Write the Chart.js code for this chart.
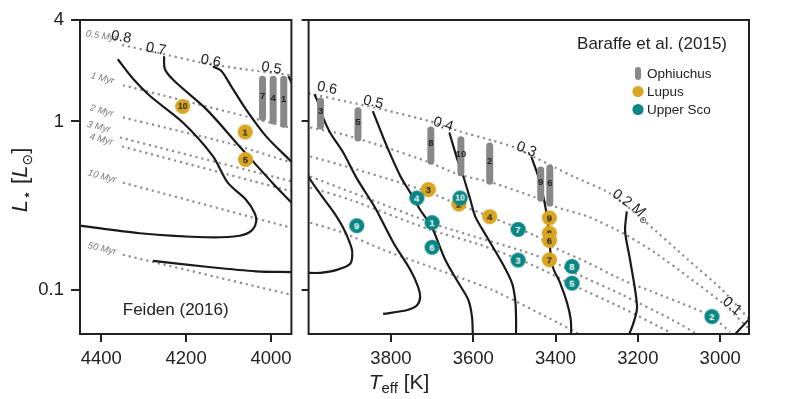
<!DOCTYPE html>
<html><head><meta charset="utf-8">
<script src="https://cdn.jsdelivr.net/npm/chart.js@4.4.1/dist/chart.umd.min.js"></script>
<style>
html,body{margin:0;padding:0;background:#fff;}
#wrap{position:relative;width:797px;height:399px;overflow:hidden;background:#fff;}
#cL{position:absolute;left:0;top:0;}
#cR{position:absolute;left:300px;top:0;}
</style></head><body>
<div id="wrap"><canvas id="cL" width="300" height="399"></canvas><canvas id="cR" width="497" height="399"></canvas></div>
<script>
// ---------------- DATA ----------------
const yTickValues = [0.1, 1, 4];
const feidenTickValues = [4400, 4200, 4000];
const baraffeTickValues = [3800, 3600, 3400, 3200, 3000];

// Feiden (2016) isochrones: Teff [K], L [Lsun]
const feidenIsoAges = ['0.5 Myr','1 Myr','2 Myr','3 Myr','4 Myr','10 Myr','50 Myr'];
const fIso05T = [4351, 4262, 4168, 4063, 3952];  const fIso05L = [2.84, 2.54, 2.245, 2.04, 1.88];
const fIso1T  = [4349, 3952];                    const fIso1L  = [1.64, 0.915];
const fIso2T  = [4349, 4098, 3952];              const fIso2L  = [1.056, 0.740, 0.570];
const fIso3T  = [4356, 3952];                    const fIso3L  = [0.803, 0.441];
const fIso4T  = [4351, 3952];                    const fIso4L  = [0.710, 0.385];
const fIso10T = [4349, 3952];                    const fIso10L = [0.433, 0.2336];
const fIso50T = [4349, 3952];                    const fIso50L = [0.1616, 0.0934];
const fIsoLabelT = [4399, 4397, 4399, 4406, 4400, 4398, 4398];
const fIsoLabelL = [3.21, 1.80, 1.155, 0.927, 0.781, 0.471, 0.1754];

// Feiden (2016) mass tracks
const fTrk08T = [4361, 4324, 4285, 4207, 4137, 4102, 4059, 4039, 4035, 4046, 4074, 4152, 4309, 4450];
const fTrk08L = [2.339, 1.778, 1.415, 0.982, 0.622, 0.433, 0.343, 0.287, 0.254, 0.2245, 0.2096, 0.2053, 0.2169, 0.2404];
const fTrk07T = [4252, 4250, 4227, 4152, 4074, 3997, 3952, 3934];
const fTrk07L = [2.437, 2.039, 1.730, 1.179, 0.710, 0.433, 0.330, 0.295];
const fTrk07bT = [4278, 4152, 4035, 3952, 3934];
const fTrk07bL = [0.1488, 0.1371, 0.1288, 0.1275, 0.1272];
const fTrk06T = [4137, 4117, 4094, 4059, 4012, 3953, 3934];
const fTrk06L = [2.117, 1.992, 1.622, 1.179, 0.818, 0.580, 0.518];
const fTrk05T = [3959, 3952, 3934];
const fTrk05L = [1.853, 1.707, 1.352];
const fMassLabels = ['0.8', '0.7', '0.6', '0.5'];
const fMassLabelT = [4353, 4271, 4142, 3999];
const fMassLabelL = [3.162, 2.683, 2.276, 2.067];

// Feiden panel: Ophiuchus (0.5-1 Myr ranges) and Lupus
const fOphIds = ['7', '4', '1'];
const fOphT = [4020, 3995, 3970];
const fOphLtop = [1.778, 1.778, 1.778];
const fOphLbot = [1.056, 1.007, 0.962];
const fLupIds = ['10', '1', '5'];
const fLupT = [4208, 4061, 4060];
const fLupL = [1.228, 0.866, 0.594];

// Baraffe et al. (2015) isochrones (0.5, 1, 2, 3, 4, 10 Myr)
const bIso05T = [4000, 3899, 3821, 3704, 3632, 3554, 3498, 3449, 3401, 3357, 3267, 3182, 3078, 2995, 2932, 2903];
const bIso05L = [1.467, 1.298, 1.179, 1.0, 0.872, 0.771, 0.700, 0.610, 0.532, 0.471, 0.373, 0.254, 0.1509, 0.1, 0.0681, 0.0578];
const bIso1T = [3996, 3916, 3819, 3712, 3636, 3554, 3449, 3401, 3321, 3238, 3158, 3078, 2995, 2927];
const bIso1L = [0.921, 0.837, 0.710, 0.578, 0.484, 0.433, 0.353, 0.312, 0.272, 0.2184, 0.1661, 0.1195, 0.0837, 0.0578];
const bIso2T = [3996, 3899, 3777, 3705, 3636, 3559, 3449, 3401, 3321, 3238, 3158, 3078, 3019, 2976];
const bIso2L = [0.619, 0.532, 0.433, 0.378, 0.321, 0.272, 0.2096, 0.1778, 0.1448, 0.1147, 0.0960, 0.0803, 0.0691, 0.0562];
const bIso3T = [3996, 3831, 3722, 3668, 3474, 3401, 3359, 3238, 3116, 3048];
const bIso3L = [0.471, 0.330, 0.261, 0.2339, 0.1683, 0.1448, 0.1279, 0.0934, 0.0663, 0.0532];
const bIso4T = [3996, 3899, 3705, 3583, 3474, 3401, 3359, 3238, 3119];
const bIso4L = [0.405, 0.343, 0.2276, 0.1853, 0.1468, 0.1212, 0.1071, 0.0781, 0.0555];
const bIso10T = [3996, 3916, 3819, 3705, 3554, 3393, 3335];
const bIso10L = [0.2505, 0.2184, 0.1730, 0.1371, 0.1, 0.0636, 0.0532];

// Baraffe et al. (2015) mass tracks
const bTrk07T = [4008, 3996, 3967, 3940, 3916, 3901, 3894, 3899, 3931, 3972, 4008];
const bTrk07L = [0.518, 0.452, 0.358, 0.291, 0.2339, 0.1931, 0.1683, 0.1428, 0.1315, 0.1262, 0.1262];
const bTrk06T = [3986, 3979, 3965, 3948, 3916, 3884, 3843, 3833, 3794, 3753, 3734, 3729, 3736, 3760, 3819];
const bTrk06L = [1.448, 1.334, 1.056, 0.860, 0.654, 0.464, 0.321, 0.291, 0.1905, 0.1315, 0.1042, 0.0908, 0.0814, 0.0760, 0.0720];
const bTrk05T = [3844, 3810, 3777, 3753, 3729, 3700, 3668, 3636, 3612, 3603, 3601];
const bTrk05L = [1.152, 0.713, 0.473, 0.378, 0.299, 0.2339, 0.1509, 0.1101, 0.0872, 0.0691, 0.0532];
const bTrk04T = [3658, 3640, 3624, 3607, 3595, 3567, 3530, 3506, 3498, 3496, 3496];
const bTrk04L = [0.860, 0.610, 0.471, 0.343, 0.272, 0.2067, 0.1448, 0.1101, 0.0872, 0.0691, 0.0532];
const bTrk03T = [3459, 3442, 3428, 3418, 3413, 3406, 3389, 3372, 3363, 3362];
const bTrk03L = [0.619, 0.471, 0.343, 0.2436, 0.1730, 0.1352, 0.1101, 0.0837, 0.0663, 0.0532];
const bTrk02T = [3227, 3231, 3219, 3202, 3211, 3223];
const bTrk02L = [0.2924, 0.2223, 0.1509, 0.0795, 0.0633, 0.0532];
const bTrk01T = [2968, 2931, 2903];
const bTrk01L = [0.0532, 0.0663, 0.0760];
const bMassLabels = ['0.6', '0.5', '0.4', '0.3', '0.2', '0.1'];
const bMassLabelT = [3955, 3843, 3673, 3471, 3221, 2971];
const bMassLabelL = [1.572, 1.298, 0.960, 0.681, 0.325, 0.0801];

// Baraffe panel: Ophiuchus, Lupus, Upper Sco
const bOphIds = ['3', '5', '8', '10', '2', '9', '6'];
const bOphT = [3971, 3880, 3703, 3630, 3560, 3436, 3414];
const bOphLtop = [1.324, 1.155, 0.890, 0.779, 0.715, 0.514, 0.529];
const bOphLbot = [0.940, 0.798, 0.582, 0.496, 0.442, 0.350, 0.327];
const bLupIds = ['3', '2', '4', '9', '8', '6', '7'];
const bLupT = [3709, 3635, 3560, 3415, 3415, 3415, 3415];
const bLupL = [0.394, 0.323, 0.272, 0.2673, 0.2175, 0.1965, 0.1509];
const bUscIds = ['4', '10', '1', '6', '9', '7', '3', '8', '5', '2'];
const bUscT = [3737, 3632, 3700, 3700, 3883, 3491, 3491, 3360, 3360, 3020];
const bUscL = [0.351, 0.351, 0.2505, 0.179, 0.2404, 0.2285, 0.1502, 0.1376, 0.1096, 0.0694];

// ---------------- STYLE / HELPERS ----------------
const FF = '"Liberation Sans", Arial, "DejaVu Sans", sans-serif';
const INK = '#222222';
const GOLD = '#DAA520';
const TEAL = '#0a8784';
const OPHGRAY = '#888888';
const ISOGRAY = '#8f8f8f';

function pts(T, L) { return T.map((t, i) => ({x: t, y: L[i]})); }
function isoDS(T, L) {
  return {data: pts(T, L), showLine: true, borderColor: ISOGRAY, borderWidth: 2.2,
    borderDash: [2.2, 3.8], pointRadius: 0, tension: 0.2, clip: 0, order: 4};
}
function trackDS(T, L) {
  return {data: pts(T, L), showLine: true, borderColor: '#1a1a1a', borderWidth: 2.2,
    pointRadius: 0, tension: 0.3, clip: 0, order: 3};
}
function barDSs(T, Lt, Lb) {
  return T.map((t, i) => ({data: [{x: t, y: Lt[i]}, {x: t, y: Lb[i]}], showLine: true,
    borderColor: OPHGRAY, borderWidth: 7, borderCapStyle: 'round', pointRadius: 0, clip: false, order: 2}));
}
function badge(fill, txt, label) {
  const s = 17, c = document.createElement('canvas');
  c.width = s; c.height = s;
  const g = c.getContext('2d');
  g.beginPath(); g.arc(s / 2, s / 2, 7.6, 0, Math.PI * 2); g.fillStyle = fill; g.fill();
  g.fillStyle = txt; g.font = 'bold ' + (label.length > 1 ? 8.5 : 9.5) + 'px ' + FF;
  g.textAlign = 'center'; g.textBaseline = 'middle';
  g.fillText(label, s / 2, s / 2 + 0.5);
  return c;
}
function pointDS(T, L, ids, fill, txt, order) {
  return {data: pts(T, L), showLine: false, pointRadius: 7.6, pointStyle: ids.map(id => badge(fill, txt, id)),
    clip: false, order: order};
}
function drawRuns(ctx, x, y, deg, runs, align, color) {
  ctx.save();
  ctx.translate(x, y);
  ctx.rotate(deg * Math.PI / 180);
  let total = 0;
  runs.forEach(r => { ctx.font = r.font; r.w = ctx.measureText(r.t).width; total += r.w; });
  let cx = align === 'left' ? 0 : (align === 'right' ? -total : -total / 2);
  ctx.textAlign = 'left'; ctx.textBaseline = 'alphabetic';
  ctx.fillStyle = color;
  runs.forEach(r => { ctx.font = r.font; ctx.fillText(r.t, cx, r.dy || 0); cx += r.w; });
  ctx.restore();
}
function drawText(ctx, x, y, deg, text, font, color) {
  ctx.save(); ctx.translate(x, y); ctx.rotate(deg * Math.PI / 180);
  ctx.font = font; ctx.fillStyle = color; ctx.textAlign = 'center'; ctx.textBaseline = 'middle';
  ctx.fillText(text, 0, 0); ctx.restore();
}
function frame(chart) {
  const a = chart.chartArea, c = chart.ctx;
  c.save(); c.strokeStyle = INK; c.lineWidth = 2;
  c.strokeRect(a.left, a.top, a.right - a.left, a.bottom - a.top); c.restore();
}
function barLabels(chart, T, Lt, Lb, ids) {
  const c = chart.ctx, xs = chart.scales.x, ys = chart.scales.y;
  T.forEach((t, i) => {
    const x = xs.getPixelForValue(t);
    const y = (ys.getPixelForValue(Lt[i]) + ys.getPixelForValue(Lb[i])) / 2 - 2;
    drawText(c, x, y, 0, ids[i], 'bold 9.5px ' + FF, INK);
  });
}
function axisCommon(tl) {
  return {grid: {drawOnChartArea: false, drawTicks: true, tickLength: tl, lineWidth: 2, color: INK},
    border: {display: false}};
}

// ---------------- LEFT: Feiden (2016) ----------------
const leftDatasets = [
  pointDS(fLupT, fLupL, fLupIds, GOLD, INK, 1),
  ...barDSs(fOphT, fOphLtop, fOphLbot),
  trackDS(fTrk08T, fTrk08L), trackDS(fTrk07T, fTrk07L), trackDS(fTrk07bT, fTrk07bL),
  trackDS(fTrk06T, fTrk06L), trackDS(fTrk05T, fTrk05L),
  isoDS(fIso05T, fIso05L), isoDS(fIso1T, fIso1L), isoDS(fIso2T, fIso2L), isoDS(fIso3T, fIso3L),
  isoDS(fIso4T, fIso4L), isoDS(fIso10T, fIso10L), isoDS(fIso50T, fIso50L)
];
const fIsoAngles = [9, 14, 15, 14, 15, 15, 13];
const fMassAngles = [10, 11, 11, 10];

new Chart(document.getElementById('cL'), {
  type: 'scatter',
  data: {datasets: leftDatasets},
  options: {
    responsive: false, animation: false, events: [],
    layout: {padding: {top: 20, right: 8, left: 0, bottom: 0}},
    plugins: {legend: {display: false}, tooltip: {enabled: false}},
    scales: {
      x: Object.assign(axisCommon(8), {type: 'linear', reverse: true, min: 3952, max: 4450,
        afterBuildTicks: s => { s.ticks = feidenTickValues.map(v => ({value: v})); },
        afterFit: s => { s.height = 65; },
        ticks: {font: {family: FF, size: 18.5}, color: INK, padding: 6, maxRotation: 0, callback: v => String(v)}}),
      y: Object.assign(axisCommon(9), {type: 'logarithmic', min: 0.0547, max: 4,
        afterBuildTicks: s => { s.ticks = yTickValues.map(v => ({value: v})); },
        afterFit: s => { s.width = 80; },
        ticks: {font: {family: FF, size: 18.5}, color: INK, padding: 7, callback: v => String(v)}})
    }
  },
  plugins: [{
    id: 'leftDeco',
    afterDatasetsDraw(chart) {
      const c = chart.ctx, xs = chart.scales.x, ys = chart.scales.y, a = chart.chartArea;
      frame(chart);
      barLabels(chart, fOphT, fOphLtop, fOphLbot, fOphIds);
      feidenIsoAges.forEach((t, i) => drawText(c, xs.getPixelForValue(fIsoLabelT[i]), ys.getPixelForValue(fIsoLabelL[i]),
        fIsoAngles[i], t, 'italic 9.5px ' + FF, '#7a7a7a'));
      fMassLabels.forEach((t, i) => drawText(c, xs.getPixelForValue(fMassLabelT[i]), ys.getPixelForValue(fMassLabelL[i]),
        fMassAngles[i], t, '14.5px ' + FF, INK));
      drawText(c, (a.left + a.right) / 2 - 10, a.bottom - 24, 0, 'Feiden (2016)', '17px ' + FF, INK);
      // y-axis title
      drawRuns(c, 27, 180, -90, [
        {t: 'L', font: 'italic 22px ' + FF},
        {t: '\u22C6', font: '16px "DejaVu Sans", ' + FF, dy: 5},
        {t: ' [', font: '22px ' + FF},
        {t: 'L', font: 'italic 22px ' + FF},
        {t: '\u2299', font: '14px "DejaVu Sans", ' + FF, dy: 5},
        {t: ']', font: '22px ' + FF}
      ], 'center', INK);
    }
  }]
});

// ---------------- RIGHT: Baraffe et al. (2015) ----------------
const rightDatasets = [
  pointDS(bUscT, bUscL, bUscIds, TEAL, '#ffffff', 0),
  pointDS(bLupT, bLupL, bLupIds, GOLD, INK, 1),
  ...barDSs(bOphT, bOphLtop, bOphLbot),
  trackDS(bTrk07T, bTrk07L), trackDS(bTrk06T, bTrk06L), trackDS(bTrk05T, bTrk05L),
  trackDS(bTrk04T, bTrk04L), trackDS(bTrk03T, bTrk03L), trackDS(bTrk02T, bTrk02L), trackDS(bTrk01T, bTrk01L),
  isoDS(bIso05T, bIso05L), isoDS(bIso1T, bIso1L), isoDS(bIso2T, bIso2L), isoDS(bIso3T, bIso3L),
  isoDS(bIso4T, bIso4L), isoDS(bIso10T, bIso10L)
];
const bMassAngles = [11, 13, 17, 22, 36, 40];

new Chart(document.getElementById('cR'), {
  type: 'scatter',
  data: {datasets: rightDatasets},
  options: {
    responsive: false, animation: false, events: [],
    layout: {padding: {top: 20, right: 48, left: 0, bottom: 0}},
    plugins: {legend: {display: false}, tooltip: {enabled: false}},
    scales: {
      x: Object.assign(axisCommon(8), {type: 'linear', reverse: true, min: 2930, max: 4000,
        afterBuildTicks: s => { s.ticks = baraffeTickValues.map(v => ({value: v})); },
        afterFit: s => { s.height = 65; },
        ticks: {font: {family: FF, size: 18.5}, color: INK, padding: 6, maxRotation: 0, callback: v => String(v)}}),
      y: Object.assign(axisCommon(7), {type: 'logarithmic', min: 0.0547, max: 4,
        afterBuildTicks: s => { s.ticks = yTickValues.map(v => ({value: v})); },
        afterFit: s => { s.width = 7; },
        ticks: {display: false}})
    }
  },
  plugins: [{
    id: 'rightDeco',
    afterDatasetsDraw(chart) {
      const c = chart.ctx, xs = chart.scales.x, ys = chart.scales.y, a = chart.chartArea;
      frame(chart);
      barLabels(chart, bOphT, bOphLtop, bOphLbot, bOphIds);
      bMassLabels.forEach((t, i) => {
        const x = xs.getPixelForValue(bMassLabelT[i]), y = ys.getPixelForValue(bMassLabelL[i]);
        if (t === '0.2') {
          drawRuns(c, x, y + 5, bMassAngles[i], [
            {t: '0.2 ', font: '14.5px ' + FF},
            {t: 'M', font: 'italic 14.5px ' + FF},
            {t: '\u2299', font: '9px "DejaVu Sans", ' + FF, dy: 4}
          ], 'center', INK);
        } else {
          drawText(c, x, y, bMassAngles[i], t, '14.5px ' + FF, INK);
        }
      });
      c.save();
      c.font = '17px ' + FF; c.fillStyle = INK; c.textAlign = 'right'; c.textBaseline = 'alphabetic';
      c.fillText('Baraffe et al. (2015)', a.right - 22, a.top + 29);
      // legend
      const lx = a.right - 111;
      c.fillStyle = OPHGRAY;
      c.beginPath(); c.roundRect(lx - 3, a.top + 47, 6, 13, 3); c.fill();
      c.fillStyle = GOLD; c.beginPath(); c.arc(lx, a.top + 71.5, 5.6, 0, Math.PI * 2); c.fill();
      c.fillStyle = TEAL; c.beginPath(); c.arc(lx, a.top + 89.5, 5.6, 0, Math.PI * 2); c.fill();
      c.font = '13.5px ' + FF; c.fillStyle = INK; c.textAlign = 'left'; c.textBaseline = 'middle';
      c.fillText('Ophiuchus', lx + 9, a.top + 54);
      c.fillText('Lupus', lx + 9, a.top + 72);
      c.fillText('Upper Sco', lx + 9, a.top + 90);
      c.restore();
      // x-axis title (shared, centred under both panels)
      drawRuns(c, 99, 389, 0, [
        {t: 'T', font: 'italic 21px ' + FF},
        {t: 'eff', font: '15px ' + FF, dy: 4},
        {t: ' [K]', font: '21px ' + FF}
      ], 'center', INK);
    }
  }]
});
</script>
</body></html>
